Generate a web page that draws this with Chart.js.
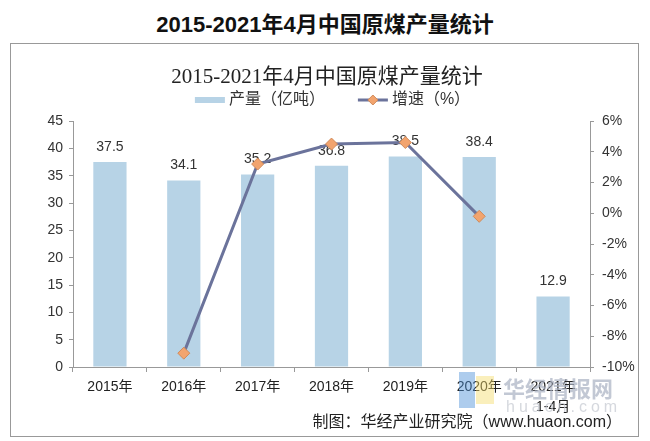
<!DOCTYPE html>
<html>
<head>
<meta charset="utf-8">
<script src="https://cdn.jsdelivr.net/npm/chart.js@4.4.1/dist/chart.umd.min.js"></script>
<style>
  body { margin: 0; background: #fff; width: 650px; height: 441px; position: relative; overflow: hidden; }
  #head { position: absolute; left: 0; top: 6px; width: 650px; text-align: center; line-height: 28px;
          font: bold 22px "Liberation Sans", "Noto Sans CJK SC", sans-serif; color: #111; }
  #box { position: absolute; left: 10px; top: 43px; width: 627px; height: 392px; border: 1px solid #999; }
  #inner { position: absolute; left: 0; top: 15px; width: 632px; text-align: center; line-height: 26px;
           font: 21px "Liberation Serif", "Noto Sans CJK SC", serif; color: #222; }
  #wrap { position: absolute; left: 0; top: 0; width: 627px; height: 392px; }
  #credit { position: absolute; right: 28px; top: 408px; line-height: 20px; white-space: nowrap;
            font: 16px "Liberation Sans", "Noto Sans CJK SC", sans-serif; color: #222; }
  .wm { position: absolute; pointer-events: none; }
</style>
</head>
<body>
<div id="head">2015-2021年4月中国原煤产量统计</div>
<div id="box">
  <div id="wrap"><canvas id="chart"></canvas></div>
  <div id="inner">2015-2021年4月中国原煤产量统计</div>
</div>
<!-- watermark -->
<div class="wm" style="left:459px;top:372px;width:16px;height:36px;background:#4a8fd8;opacity:.45"></div>
<div class="wm" style="left:476px;top:376px;width:18px;height:28px;background:#f3dc6a;opacity:.45"></div>
<div class="wm" style="left:503px;top:373px;font:bold 22px 'Noto Sans CJK SC';color:#a9b1c2;opacity:.7;line-height:28px">华经情报网</div>
<div class="wm" style="left:506px;top:398px;font:16px 'Liberation Sans';letter-spacing:4px;color:#c4c8d0;opacity:.7;line-height:18px">huaon.com</div>
<div id="credit">制图：华经产业研究院（www.huaon.com）</div>
<script>
const years = ["2015年", "2016年", "2017年", "2018年", "2019年", "2020年", ["2021年", "1-4月"]];
const output = [37.5, 34.1, 35.2, 36.8, 38.5, 38.4, 12.9]; // 亿吨
const growth = [null, -9.1, 3.2, 4.5, 4.6, -0.2, null]; // %
const outputTicks = { min: 0, max: 45, step: 5 };
const growthTicks = { min: -10, max: 6, step: 2 };

const barColor = "#b7d3e6";
const lineColor = "#6b739b";
const markColor = "#f2a46e";
const font = "'Liberation Sans', 'Noto Sans CJK SC', sans-serif";

// value labels above bars (drawn before the line so it sits on top)
const barLabels = {
  id: "barLabels",
  afterDatasetDraw(chart, args) {
    if (args.index !== 0) return;
    const ctx = chart.ctx;
    ctx.save();
    ctx.font = "14px " + font;
    ctx.fillStyle = "#333";
    ctx.textAlign = "center";
    ctx.textBaseline = "middle";
    args.meta.data.forEach((bar, i) => {
      ctx.fillText(output[i].toFixed(1), bar.x, bar.y - 15);
    });
    ctx.restore();
  },
};

// legend symbols: flat bar and line with diamond
const legendIcons = {
  id: "legendIcons",
  afterDraw(chart) {
    const ctx = chart.ctx;
    ctx.save();
    chart.legend.legendHitBoxes.forEach((b, i) => {
      const cy = b.top + b.height / 2;
      if (i === 0) {
        ctx.fillStyle = barColor;
        ctx.fillRect(b.left, cy - 3, 30, 6);
      } else {
        ctx.strokeStyle = lineColor;
        ctx.lineWidth = 3;
        ctx.beginPath();
        ctx.moveTo(b.left, cy);
        ctx.lineTo(b.left + 30, cy);
        ctx.stroke();
        ctx.fillStyle = markColor;
        ctx.strokeStyle = "#d08a5a";
        ctx.lineWidth = 1;
        ctx.beginPath();
        ctx.moveTo(b.left + 15, cy - 5);
        ctx.lineTo(b.left + 20, cy);
        ctx.lineTo(b.left + 15, cy + 5);
        ctx.lineTo(b.left + 10, cy);
        ctx.closePath();
        ctx.fill();
        ctx.stroke();
      }
    });
    ctx.restore();
  },
};

new Chart(document.getElementById("chart").getContext("2d"), {
  type: "bar",
  data: {
    labels: years,
    datasets: [
      {
        label: "产量（亿吨）",
        data: output,
        backgroundColor: barColor,
        categoryPercentage: 0.9,
        barPercentage: 0.5,
        yAxisID: "y",
        order: 1,
      },
      {
        type: "line",
        label: "增速（%）",
        data: growth,
        borderColor: lineColor,
        borderWidth: 3,
        pointStyle: "rectRot",
        pointRadius: 6,
        pointHoverRadius: 6,
        pointBackgroundColor: markColor,
        pointBorderColor: "#d08a5a",
        pointBorderWidth: 1,
        tension: 0,
        yAxisID: "y1",
        order: 0,
      },
    ],
  },
  options: {
    responsive: true,
    maintainAspectRatio: false,
    animation: false,
    layout: { padding: { left: 16, right: 0, top: 12, bottom: 0 } },
    plugins: {
      tooltip: { enabled: false },
      legend: {
        position: "top",
        labels: {
          font: { size: 16, family: font },
          color: "#333",
          boxWidth: 26,
          boxHeight: 22,
          padding: 33,
          generateLabels: (chart) =>
            chart.data.datasets.map((ds, i) => ({
              text: ds.label,
              fillStyle: "rgba(0,0,0,0)",
              strokeStyle: "rgba(0,0,0,0)",
              lineWidth: 0,
              hidden: false,
              datasetIndex: i,
              fontColor: "#333",
            })),
        },
      },
    },
    scales: {
      x: {
        grid: { display: true, drawOnChartArea: false, color: "#999", tickLength: 5 },
        border: { color: "#999" },
        ticks: { color: "#222", font: { size: 14, family: font, lineHeight: 1.43 }, padding: 5, maxRotation: 0 },
        afterFit: (scale) => { scale.height = 69; },
      },
      y: {
        position: "left",
        min: outputTicks.min,
        max: outputTicks.max,
        grid: { display: true, drawOnChartArea: false, color: "#999", tickLength: 4 },
        border: { color: "#999" },
        ticks: { stepSize: outputTicks.step, color: "#333", font: { size: 14, family: font }, padding: 6 },
        afterFit: (scale) => { scale.width = 46; },
      },
      y1: {
        position: "right",
        min: growthTicks.min,
        max: growthTicks.max,
        grid: { display: true, drawOnChartArea: false, color: "#999", tickLength: 4 },
        border: { color: "#999" },
        ticks: {
          stepSize: growthTicks.step,
          color: "#333",
          font: { size: 14, family: font },
          padding: 8,
          callback: (v) => v + "%",
        },
        afterFit: (scale) => { scale.width = 48; },
      },
    },
  },
  plugins: [barLabels, legendIcons],
});
</script>
</body>
</html>
